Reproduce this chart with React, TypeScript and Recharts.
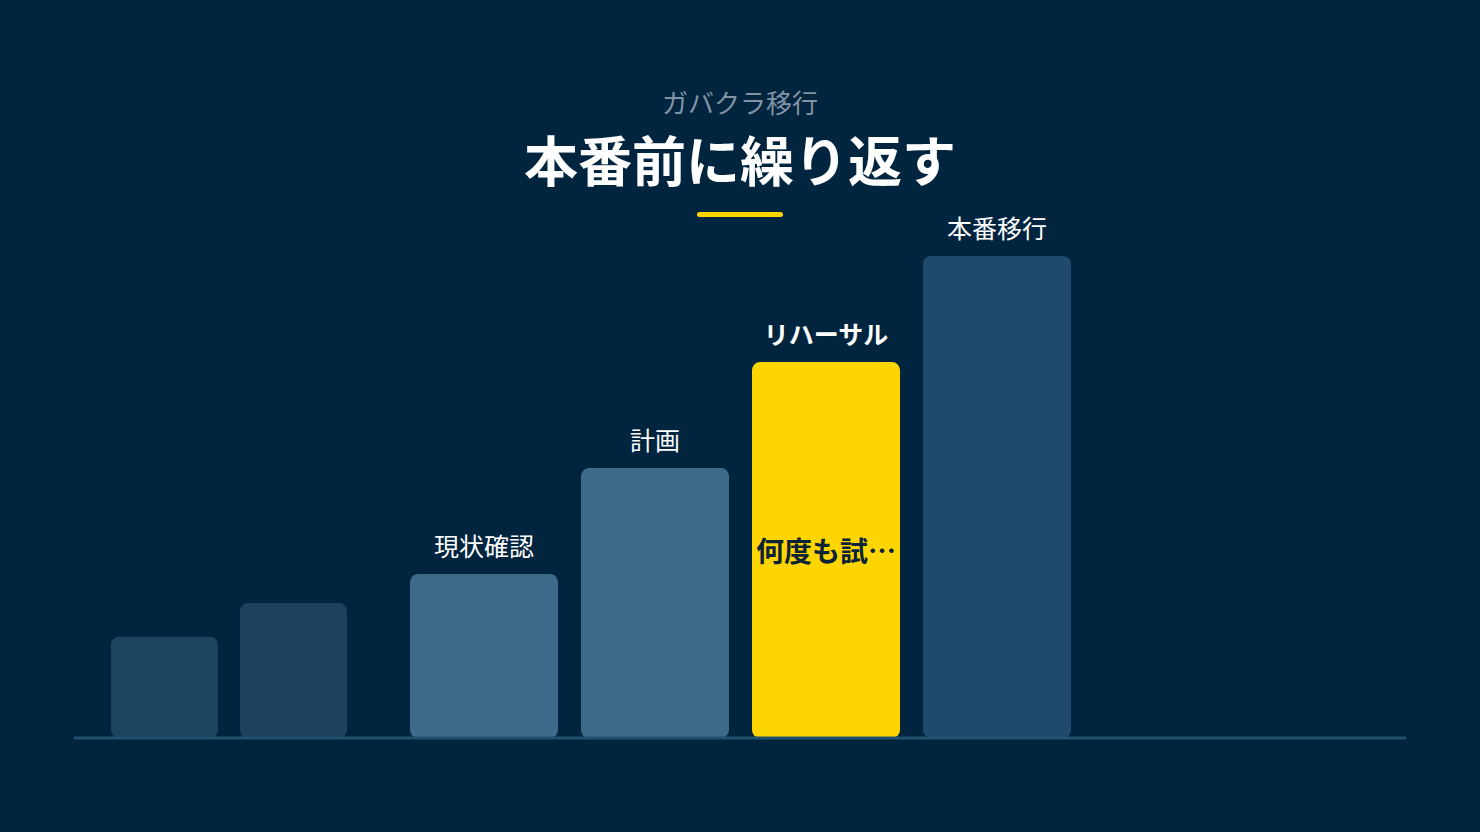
import React from 'react';
import { BarChart, Bar, XAxis, YAxis, Cell, LabelList, ReferenceLine } from 'recharts';

// ---- data ----
const preSteps = ['前段1', '前段2'];
const preValues = [21, 28];

const stepNames = ['現状確認', '計画', 'リハーサル', '本番移行'];
const stepValues = [34, 56, 78, 100];
const stepNotes = ['', '', '何度も試…', ''];
const highlightStep = 'リハーサル';

const subtitle = 'ガバクラ移行';
const title = '本番前に繰り返す';

// ---- styles ----
const W = 1480;
const H = 832;
const BG = '#01243f';
const FONT = '"Noto Sans CJK JP", "Noto Sans", sans-serif';
const PRE_COLORS = ['#1c4360', '#1c4260'];
const STEP_COLORS = ['#3e6a8a', '#3e6a8a', '#ffd500', '#1e4a6c'];
const margin = { top: 256, bottom: 94, left: 74, right: 74 };

const preData = preSteps.map((name, i) => ({ name, value: preValues[i] }));
const stepData = stepNames.map((name, i) => ({ name, value: stepValues[i], note: stepNotes[i] }));

const TopLabel = (props: any) => {
  const { x, y, width, value } = props;
  const bold = value === highlightStep;
  return (
    <text
      x={x + width / 2}
      y={y - 18}
      textAnchor="middle"
      fill="#ffffff"
      fontSize={25}
      fontWeight={bold ? 700 : 400}
      fontFamily={FONT}
    >
      {value}
    </text>
  );
};

const InnerLabel = (props: any) => {
  const { x, y, width, height, value } = props;
  if (!value) return null;
  return (
    <text
      x={x + width / 2}
      y={y + height / 2}
      textAnchor="middle"
      dominantBaseline="central"
      fill="#0b2338"
      fontSize={28}
      fontWeight={700}
      fontFamily={FONT}
    >
      {value}
    </text>
  );
};

export default function App() {
  return (
    <div style={{ position: 'relative', width: W, height: H, background: BG, overflow: 'hidden', fontFamily: FONT }}>
      <style>{`html,body{margin:0;padding:0;background:${BG};}`}</style>
      <div
        style={{
          position: 'absolute', left: 0, width: W, top: 87, textAlign: 'center',
          fontSize: 26, lineHeight: '30px', color: '#8293a5',
        }}
      >
        {subtitle}
      </div>
      <div
        style={{
          position: 'absolute', left: 0, width: W, top: 129, textAlign: 'center',
          fontSize: 54, lineHeight: '60px', fontWeight: 700, color: '#ffffff',
        }}
      >
        {title}
      </div>
      <div
        style={{
          position: 'absolute', left: 697, top: 212, width: 86, height: 5,
          borderRadius: 3, background: '#ffd500',
        }}
      />

      {/* decorative earlier steps */}
      <div style={{ position: 'absolute', left: 0, top: 0 }}>
        <BarChart width={W} height={H} data={preData} margin={margin}>
          <XAxis dataKey="name" hide padding={{ left: 26, right: 1048 }} />
          <YAxis hide domain={[0, 100]} />
          <Bar dataKey="value" barSize={107} radius={8} isAnimationActive={false}>
            {preData.map((d, i) => (
              <Cell key={d.name} fill={PRE_COLORS[i]} />
            ))}
          </Bar>
        </BarChart>
      </div>

      {/* main steps */}
      <div style={{ position: 'absolute', left: 0, top: 0 }}>
        <BarChart width={W} height={H} data={stepData} margin={margin}>
          <XAxis dataKey="name" hide padding={{ left: 324, right: 324 }} />
          <YAxis hide domain={[0, 100]} />
          <ReferenceLine y={0} stroke="#22506f" strokeWidth={3} />
          <Bar dataKey="value" barSize={148} radius={8} isAnimationActive={false}>
            {stepData.map((d, i) => (
              <Cell key={d.name} fill={STEP_COLORS[i]} />
            ))}
            <LabelList dataKey="name" content={<TopLabel />} />
            <LabelList dataKey="note" content={<InnerLabel />} />
          </Bar>
        </BarChart>
      </div>
    </div>
  );
}
